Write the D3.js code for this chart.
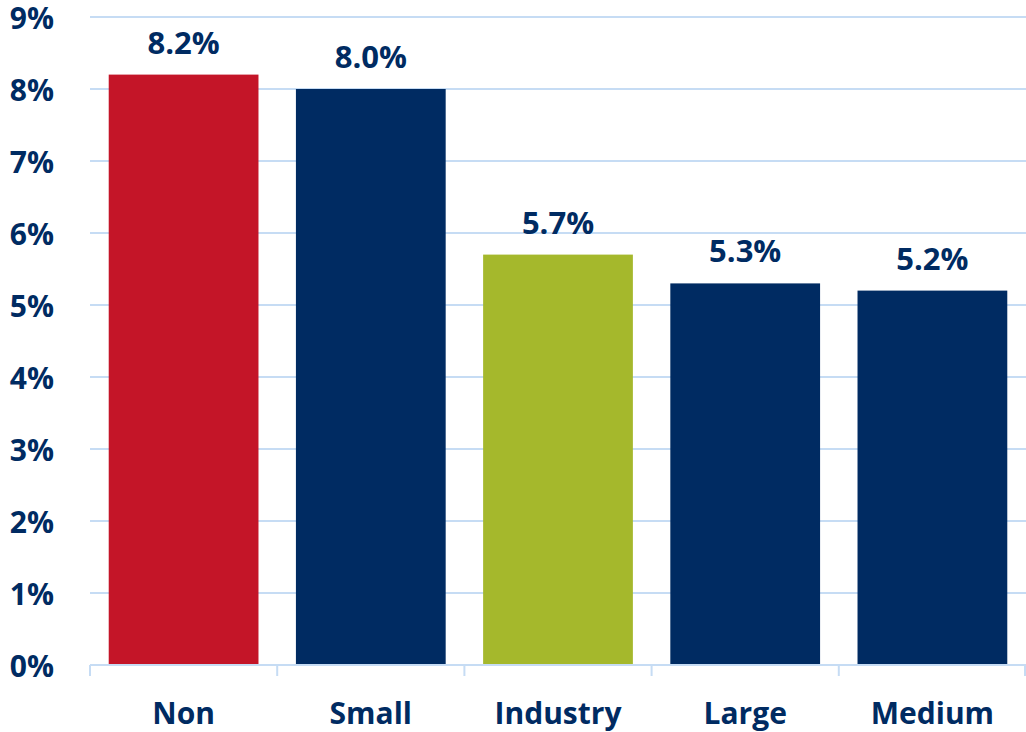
<!DOCTYPE html>
<html>
<head>
<meta charset="utf-8">
<script src="https://cdn.jsdelivr.net/npm/d3@7"></script>
<style>
  html, body { margin: 0; padding: 0; background: #fff; }
  svg { display: block; }
  text { font-family: "Open Sans", Lato, sans-serif; font-weight: 700; fill: #002B62; }
</style>
</head>
<body>
<svg id="chart" width="1026" height="732"></svg>
<script>
// Category labels, values (percent) and bar colours
const categories = ["Non", "Small", "Industry", "Large", "Medium"];
const values = [8.2, 8.0, 5.7, 5.3, 5.2];
const barColors = ["#C41528", "#002B62", "#A5B82C", "#002B62", "#002B62"];
const yTicks = [0, 1, 2, 3, 4, 5, 6, 7, 8, 9];

const svg = d3.select("#chart");
const plotLeft = 90, plotRight = 1026, plotTop = 17, plotBottom = 665;

const x = d3.scaleBand()
  .domain(categories)
  .range([plotLeft, plotRight])
  .paddingInner(0.2)
  .paddingOuter(0.1);

const y = d3.scaleLinear().domain([0, 9]).range([plotBottom, plotTop]);

// horizontal gridlines
svg.append("g")
  .selectAll("line")
  .data(yTicks.filter(d => d > 0))
  .join("line")
  .attr("x1", plotLeft).attr("x2", plotRight)
  .attr("y1", d => y(d)).attr("y2", d => y(d))
  .attr("stroke", "#C6DCF4").attr("stroke-width", 2);

// y tick labels
svg.append("g")
  .selectAll("text")
  .data(yTicks)
  .join("text")
  .attr("x", 54).attr("y", d => y(d))
  .attr("text-anchor", "end")
  .attr("dominant-baseline", "central")
  .attr("font-size", 30)
  .text(d => d + "%");

// bars
svg.append("g")
  .selectAll("rect")
  .data(values)
  .join("rect")
  .attr("x", (d, i) => x(categories[i]))
  .attr("width", x.bandwidth())
  .attr("y", d => y(d))
  .attr("height", d => y(0) - y(d))
  .attr("fill", (d, i) => barColors[i]);

// value labels above bars
svg.append("g")
  .selectAll("text")
  .data(values)
  .join("text")
  .attr("x", (d, i) => x(categories[i]) + x.bandwidth() / 2)
  .attr("y", d => y(d) - 21)
  .attr("text-anchor", "middle")
  .attr("font-size", 31)
  .text(d => d.toFixed(1) + "%");

// x axis line with tick marks at band boundaries
const xAxis = svg.append("g");
xAxis.append("line")
  .attr("x1", plotLeft).attr("x2", plotRight)
  .attr("y1", plotBottom).attr("y2", plotBottom)
  .attr("stroke", "#C6DCF4").attr("stroke-width", 2);
const boundaries = categories.map(c => x(c) - x.step() * x.paddingInner() / 2);
boundaries[0] = plotLeft;
boundaries.push(plotRight - 1);
xAxis.selectAll("line.tick")
  .data(boundaries)
  .join("line")
  .attr("class", "tick")
  .attr("x1", d => d).attr("x2", d => d)
  .attr("y1", plotBottom).attr("y2", plotBottom + 11)
  .attr("stroke", "#C6DCF4").attr("stroke-width", 2);

// category labels
xAxis.selectAll("text")
  .data(categories)
  .join("text")
  .attr("x", d => x(d) + x.bandwidth() / 2)
  .attr("y", 712)
  .attr("text-anchor", "middle")
  .attr("dominant-baseline", "central")
  .attr("font-size", 30)
  .text(d => d);
</script>
</body>
</html>
